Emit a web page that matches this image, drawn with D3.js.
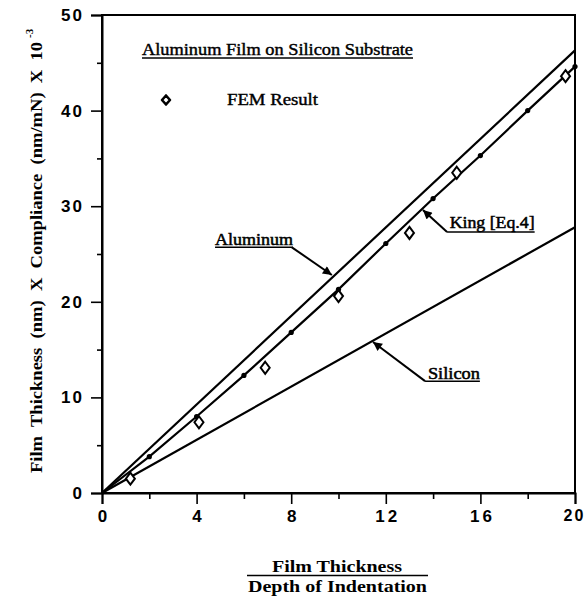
<!DOCTYPE html>
<html><head><meta charset="utf-8">
<script src="https://cdn.jsdelivr.net/npm/d3@7/dist/d3.min.js"></script>
<style>body{margin:0;background:#fff}svg{display:block}</style>
</head><body>
<svg id="chart" width="585" height="598"></svg>
<script>
// ---- data ----
const xTicks = [0, 4, 8, 12, 16, 20];
const xMinorTicks = [2, 6, 10, 14, 18];
const yTicks = [0, 10, 20, 30, 40, 50];
const yMinorTicks = [5, 15, 25, 35, 45];
const aluminumX = [0, 20];
const aluminumY = [0, 46.3];
const siliconX = [0, 20];
const siliconY = [0, 27.8];
const kingX = [0, 2, 4, 6, 8, 10, 12, 14, 16, 18, 20];
const kingY = [0, 3.8, 8.0, 12.3, 16.8, 21.3, 26.1, 30.8, 35.3, 40.0, 44.6];
const femX = [1.2, 4.1, 6.9, 10.0, 13.0, 15.0, 19.6];
const femY = [1.5, 7.4, 13.1, 20.6, 27.2, 33.5, 43.6];
// annotations: label, label position, leader start, arrow tip (data units)
const annLabels = ["Aluminum", "King [Eq.4]", "Silicon"];
const annLabelX = [4.78, 14.7, 13.78];
const annLabelY = [25.9, 27.7, 11.9];
const annLabelW = [78, 85, 52];
const annStartX = [8.03, 14.59, 13.66];
const annStartY = [25.7, 27.3, 11.7];
const annTipX = [9.72, 13.57, 11.46];
const annTipY = [22.8, 29.6, 15.8];
const titleText = "Aluminum Film on Silicon Substrate";
const legendText = "FEM Result";

const svg = d3.select("#chart");
const W = 585, H = 598;
const m = {left: 102, right: 10, top: 15, bottom: 105};
const x = d3.scaleLinear().domain([0, 20]).range([m.left, W - m.right]);
const y = d3.scaleLinear().domain([0, 50]).range([H - m.bottom, m.top]);
const serif = "'Liberation Serif','DejaVu Serif',serif";
const sans = "'Liberation Sans','DejaVu Sans',sans-serif";

// frame
svg.append("rect").attr("x", x(0)).attr("y", y(50)).attr("width", x(20) - x(0)).attr("height", y(0) - y(50))
  .attr("fill", "none").attr("stroke", "#000").attr("stroke-width", 2);

// axes
const xAxis = svg.append("g").attr("transform", `translate(0,${y(0)})`)
  .call(d3.axisBottom(x).tickValues(xTicks).tickSize(11).tickPadding(6).tickFormat(d3.format("d")));
svg.append("g").attr("transform", `translate(0,${y(0)})`)
  .call(d3.axisBottom(x).tickValues(xMinorTicks).tickSize(6).tickFormat(""))
  .call(g => g.select(".domain").remove());
const yAxis = svg.append("g").attr("transform", `translate(${x(0)},0)`)
  .call(d3.axisLeft(y).tickValues(yTicks).tickSize(11).tickPadding(9).tickFormat(d3.format("d")));
svg.append("g").attr("transform", `translate(${x(0)},0)`)
  .call(d3.axisLeft(y).tickValues(yMinorTicks).tickSize(5).tickFormat(""))
  .call(g => g.select(".domain").remove());
svg.selectAll(".domain").attr("stroke-width", 2);
svg.selectAll(".tick line").attr("stroke-width", 1.6).attr("stroke", "#000");
xAxis.selectAll("text").attr("font-family", sans).attr("font-weight", "bold").attr("font-size", 17)
  .attr("letter-spacing", 3).attr("dx", 1.5).attr("fill", "#000");
xAxis.selectAll("text").filter(d => d === 20).attr("font-size", 16).attr("letter-spacing", 2).attr("dx", -1);
yAxis.selectAll("text").attr("font-family", sans).attr("font-weight", "bold").attr("font-size", 17)
  .attr("letter-spacing", 2).attr("dx", 2).attr("fill", "#000");

// lines
const line = d3.line().x(d => x(d[0])).y(d => y(d[1]));
const draw = (xs, ys) => svg.append("path").datum(xs.map((v, i) => [v, ys[i]]))
  .attr("d", line).attr("fill", "none").attr("stroke", "#000").attr("stroke-width", 2.2);
draw(aluminumX, aluminumY);
draw(siliconX, siliconY);
draw(kingX, kingY);
svg.append("g").selectAll("circle").data(kingX.slice(1).map((v, i) => [v, kingY[i + 1]])).join("circle")
  .attr("cx", d => x(d[0])).attr("cy", d => y(d[1])).attr("r", 2.6).attr("fill", "#000");

// FEM diamonds
const diamond = "M0,-6L4.5,0L0,6L-4.5,0Z";
svg.append("g").selectAll("path").data(femX.map((v, i) => [v, femY[i]])).join("path")
  .attr("d", diamond).attr("transform", d => `translate(${x(d[0])},${y(d[1])})`)
  .attr("fill", "#fff").attr("stroke", "#000").attr("stroke-width", 2);

// title + legend
svg.append("text").attr("x", 142).attr("y", 55).attr("font-family", serif).attr("font-size", 16)
  .attr("stroke", "#000").attr("stroke-width", 0.4)
  .attr("textLength", 271).attr("lengthAdjust", "spacingAndGlyphs").text(titleText);
svg.append("line").attr("x1", 142).attr("x2", 413).attr("y1", 58).attr("y2", 58).attr("stroke", "#000").attr("stroke-width", 1.5);
svg.append("path").attr("d", "M0,-4.5L4,0L0,4.5L-4,0Z").attr("transform", "translate(166,100)")
  .attr("fill", "#fff").attr("stroke", "#000").attr("stroke-width", 2.6).attr("stroke-linejoin", "round");
svg.append("text").attr("x", 227).attr("y", 105).attr("font-family", serif).attr("font-size", 16)
  .attr("stroke", "#000").attr("stroke-width", 0.4)
  .attr("textLength", 91).attr("lengthAdjust", "spacingAndGlyphs").text(legendText);

// annotations
const defs = svg.append("defs");
defs.append("marker").attr("id", "arr").attr("viewBox", "0 0 10 10").attr("refX", 10).attr("refY", 5)
  .attr("markerUnits", "userSpaceOnUse").attr("orient", "auto")
  .attr("markerWidth", 12).attr("markerHeight", 9)
  .append("path").attr("d", "M0,0L10,5L0,10Z").attr("fill", "#000");
annLabels.forEach((lab, i) => {
  svg.append("text").attr("x", x(annLabelX[i])).attr("y", y(annLabelY[i]))
    .attr("font-family", serif).attr("font-size", 16).attr("stroke", "#000").attr("stroke-width", 0.5)
    .attr("textLength", annLabelW[i]).attr("lengthAdjust", "spacingAndGlyphs").text(lab);
  const lx0 = Math.min(x(annLabelX[i]), x(annStartX[i]));
  const lx1 = Math.max(x(annLabelX[i]) + annLabelW[i], x(annStartX[i]));
  svg.append("line").attr("x1", lx0).attr("x2", lx1).attr("y1", y(annStartY[i])).attr("y2", y(annStartY[i]))
    .attr("stroke", "#000").attr("stroke-width", 1.5);
  svg.append("line").attr("x1", x(annStartX[i])).attr("y1", y(annStartY[i]))
    .attr("x2", x(annTipX[i])).attr("y2", y(annTipY[i]))
    .attr("stroke", "#000").attr("stroke-width", 2).attr("marker-end", "url(#arr)");
});

// axis titles
const yt = svg.append("g").attr("transform", "translate(42,0) rotate(-90)");
yt.append("text").attr("x", -473).attr("y", 0).attr("font-family", serif).attr("font-weight", "bold")
  .attr("font-size", 16).attr("textLength", 431).attr("lengthAdjust", "spacingAndGlyphs")
  .attr("word-spacing", 4)
  .text("Film Thickness (nm) X Compliance (nm/mN) X 10");
yt.append("text").attr("x", -38).attr("y", -9).attr("font-family", serif).attr("font-weight", "bold")
  .attr("font-size", 11).text("-3");

svg.append("text").attr("x", 272).attr("y", 572).attr("font-family", serif).attr("font-weight", "bold")
  .attr("font-size", 16).attr("textLength", 130).attr("lengthAdjust", "spacingAndGlyphs").text("Film Thickness");
svg.append("line").attr("x1", 247).attr("x2", 428).attr("y1", 575.5).attr("y2", 575.5).attr("stroke", "#000").attr("stroke-width", 1.6);
svg.append("text").attr("x", 248).attr("y", 592).attr("font-family", serif).attr("font-weight", "bold")
  .attr("font-size", 16).attr("textLength", 179).attr("lengthAdjust", "spacingAndGlyphs").text("Depth of Indentation");
</script>
</body></html>
